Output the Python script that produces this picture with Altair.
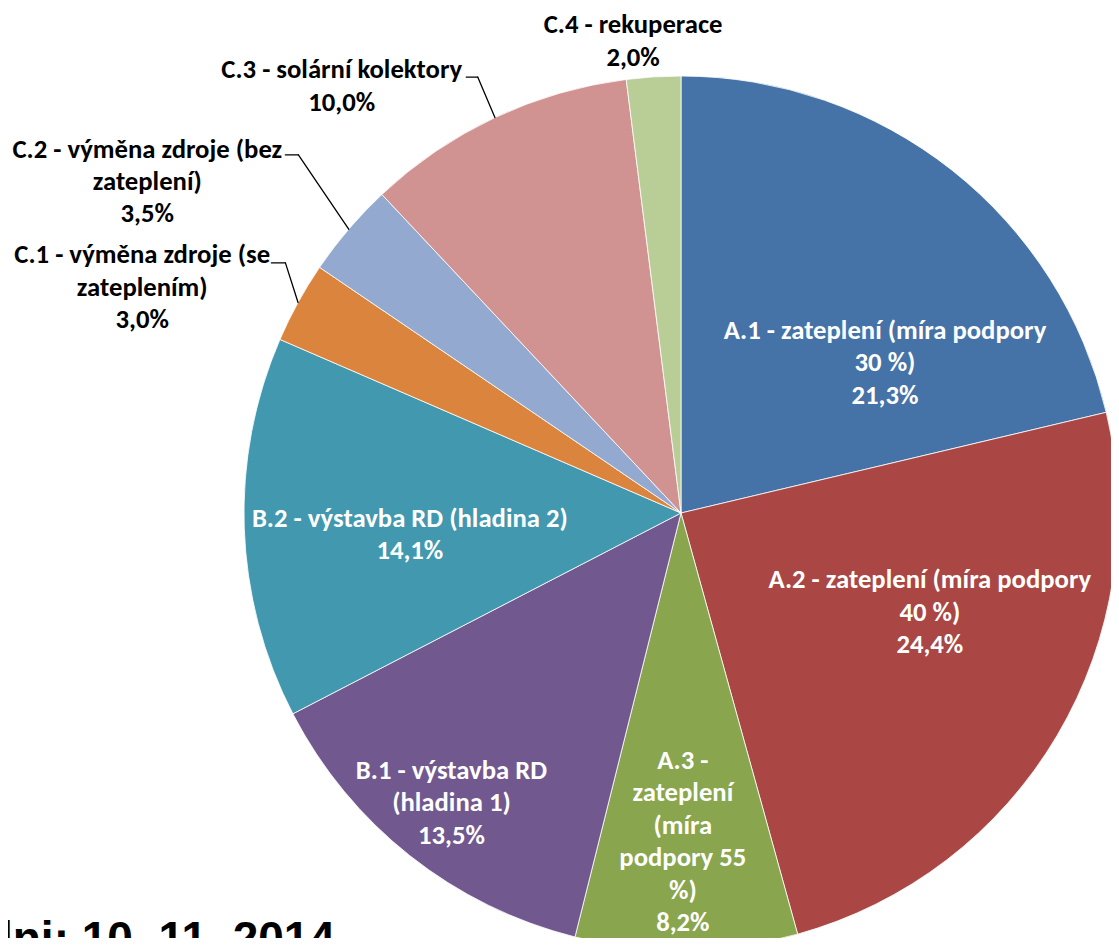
import altair as alt
import pandas as pd

# ---------------- data ----------------
categories = [
    "A.1 - zateplení (míra podpory 30 %)",
    "A.2 - zateplení (míra podpory 40 %)",
    "A.3 - zateplení (míra podpory 55 %)",
    "B.1 - výstavba RD (hladina 1)",
    "B.2 - výstavba RD (hladina 2)",
    "C.1 - výměna zdroje (se zateplením)",
    "C.2 - výměna zdroje (bez zateplení)",
    "C.3 - solární kolektory",
    "C.4 - rekuperace",
]
shares = [21.3, 24.4, 8.2, 13.5, 14.1, 3.0, 3.5, 10.0, 2.0]
wrapped_names = [
    "A.1 - zateplení (míra podpory\n30 %)",
    "A.2 - zateplení (míra podpory\n40 %)",
    "A.3 -\nzateplení\n(míra\npodpory 55\n%)",
    "B.1 - výstavba RD\n(hladina 1)",
    "B.2 - výstavba RD (hladina 2)",
    "C.1 - výměna zdroje (se\nzateplením)",
    "C.2 - výměna zdroje (bez\nzateplení)",
    "C.3 - solární kolektory",
    "C.4 - rekuperace",
]
date_note = "dni: 10. 11. 2014"

# ---------------- style ----------------
slice_colors = ["#4572A7", "#AA4643", "#89A54E", "#71588F", "#4198AF",
                "#DB843D", "#93A9CF", "#D19392", "#B9CD96"]
CX, CY, R = 673, 505, 437
label_nudge_deg = [15.4, -8.8, 0.4, 0.0, -2.6, -6.1, -8.7, -13.3, -2.2]
label_radius = [253, 268, 329, 370, 272, 584, 628, 545, 474]
label_outside = [False, False, False, False, False, True, True, True, True]
leader_nudge_deg = [None, None, None, None, None, 3.5, 2.6, 0.2, None]
leader_radius = [None, None, None, None, None, 468, 524, 481, None]
leader_tail = [None, None, None, None, None, 14, 13, 11.5, None]
LABEL_FONT = "Carlito, Lato"
LABEL_SIZE = 26.7
LINE_H = 32.4

df = pd.DataFrame({
    "idx": list(range(len(categories))),
    "category": categories,
    "share": shares,
    "label": [w + "\n" + f"{v:.1f}".replace(".", ",") + "%" for w, v in zip(wrapped_names, shares)],
    "nudge": label_nudge_deg,
    "lr": label_radius,
    "outside": label_outside,
    "en": leader_nudge_deg,
    "er": leader_radius,
    "tail": leader_tail,
})

base = alt.Chart(df)

pie = base.mark_arc(outerRadius=R, x=CX, y=CY, stroke="white", strokeWidth=0.8).encode(
    theta=alt.Theta("share:Q", stack=True),
    order=alt.Order("idx:Q"),
    color=alt.Color("category:N", scale=alt.Scale(domain=categories, range=slice_colors), legend=None),
)

polar = base.transform_window(
    cum="sum(share)", sort=[alt.SortField("idx", order="ascending")], frame=[None, 0]
).transform_joinaggregate(
    total="sum(share)"
).transform_calculate(
    mid0="((datum.cum - datum.share / 2) / datum.total) * 2 * PI",
).transform_calculate(
    mid="datum.mid0 + datum.nudge * PI / 180",
    nl="length(split(datum.label, '\\n'))",
).transform_calculate(
    lx=f"{CX} + datum.lr * sin(datum.mid)",
    ly=f"{CY} - datum.lr * cos(datum.mid) - (datum.nl - 1) / 2 * {LINE_H}",
)

def label_layer(outside, color):
    return polar.transform_filter(
        "datum.outside" if outside else "!datum.outside"
    ).mark_text(
        lineBreak="\n", lineHeight=LINE_H, font=LABEL_FONT, fontSize=LABEL_SIZE,
        fontWeight="bold", align="center", baseline="middle", color=color,
    ).encode(
        x=alt.X("lx:Q", scale=None, axis=None),
        y=alt.Y("ly:Q", scale=None, axis=None),
        text="label:N",
    )

inside_labels = label_layer(False, "white")
outside_labels = label_layer(True, "black")

leaders = polar.transform_filter("isValid(datum.er)").transform_calculate(
    x0=f"{CX} + {R} * sin(datum.mid0)",
    y0=f"{CY} - {R} * cos(datum.mid0)",
    a1="datum.mid0 + datum.en * PI / 180",
).transform_calculate(
    x1=f"{CX} + datum.er * sin(datum.a1)",
    y1=f"{CY} - datum.er * cos(datum.a1)",
).transform_calculate(
    x2="datum.x1 - datum.tail",
)

leader_radial = leaders.mark_rule(color="black", strokeWidth=1.3, strokeCap="round").encode(
    x=alt.X("x0:Q", scale=None, axis=None),
    y=alt.Y("y0:Q", scale=None, axis=None),
    x2="x1:Q",
    y2="y1:Q",
)
leader_tail_seg = leaders.mark_rule(color="black", strokeWidth=1.3, strokeCap="round").encode(
    x=alt.X("x1:Q", scale=None, axis=None),
    y=alt.Y("y1:Q", scale=None, axis=None),
    x2="x2:Q",
)

note = alt.Chart(pd.DataFrame({"t": [date_note]})).mark_text(
    x=327, y=946, align="right", baseline="alphabetic", font="Liberation Sans",
    fontSize=46, fontWeight="bold", color="black",
).encode(text="t:N")

chart = alt.layer(
    pie, leader_radial, leader_tail_seg, inside_labels, outside_labels, note
).properties(
    width=1103, height=930, padding=0,
    autosize=alt.AutoSizeParams(type="none"),
    background="white",
).configure_view(strokeWidth=0)

chart.save("out.html", embed_options={"renderer": "svg", "actions": False})
